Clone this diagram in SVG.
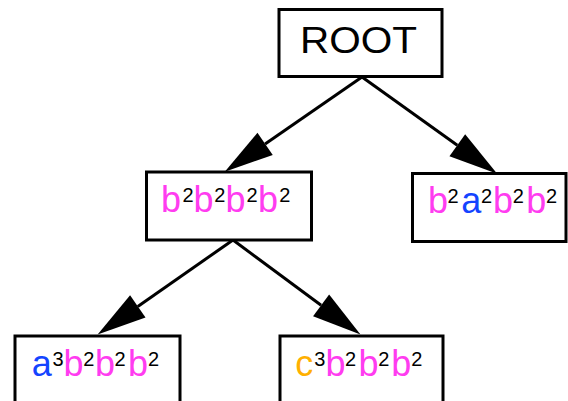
<svg xmlns="http://www.w3.org/2000/svg" width="568" height="401" viewBox="0 0 568 401">
<defs>
<style>
.box{fill:#fff;stroke:#000;stroke-width:3}
.edge{stroke:#000;stroke-width:3;fill:none;marker-end:url(#arr)}
text{font-family:"Liberation Sans",Arial,Helvetica,sans-serif;fill:#000}
.big{font-size:36px}
.sup{font-size:20px}
.m{fill:#ff3cf0}
.bl{fill:#1444ff}
.or{fill:#ffb000}
</style>
<marker id="arr" markerUnits="userSpaceOnUse" markerWidth="50" markerHeight="28" refX="0" refY="13.5" orient="auto" overflow="visible">
<path d="M0,0 L49,13.5 L0,27 z" fill="#000"/>
</marker>
</defs>
<rect width="568" height="401" fill="#fff"/>
<g id="edges">
<line class="edge" x1="362" y1="77" x2="265.1" y2="143.9"/>
<line class="edge" x1="362" y1="77" x2="457.3" y2="145.2"/>
<line class="edge" x1="233" y1="240" x2="137.8" y2="306.4"/>
<line class="edge" x1="233" y1="240" x2="321.1" y2="305.3"/>
</g>
<g id="root">
<rect class="box" x="279" y="9.5" width="163" height="67"/>
<text class="big" x="300" y="53" textLength="117" lengthAdjust="spacingAndGlyphs">ROOT</text>
</g>
<g id="n1">
<rect class="box" x="146.5" y="172" width="165" height="68"/>
<text><tspan class="big m" x="161" y="212">b</tspan><tspan class="sup" x="182.5" y="202">2</tspan><tspan class="big m" x="193.5" y="212">b</tspan><tspan class="sup" x="214.2" y="202">2</tspan><tspan class="big m" x="225.5" y="212">b</tspan><tspan class="sup" x="246.6" y="202">2</tspan><tspan class="big m" x="258" y="212">b</tspan><tspan class="sup" x="279.2" y="202">2</tspan></text>
</g>
<g id="n2">
<rect class="box" x="412.5" y="173.5" width="153.5" height="68"/>
<text><tspan class="big m" x="428" y="213">b</tspan><tspan class="sup" x="447.6" y="203">2</tspan><tspan class="big bl" x="461.2" y="213">a</tspan><tspan class="sup" x="481" y="203">2</tspan><tspan class="big m" x="493" y="213">b</tspan><tspan class="sup" x="512.8" y="203">2</tspan><tspan class="big m" x="526.2" y="213">b</tspan><tspan class="sup" x="546" y="203">2</tspan></text>
</g>
<g id="n3">
<rect class="box" x="15" y="336" width="165" height="80"/>
<text><tspan class="big bl" x="31.8" y="376">a</tspan><tspan class="sup" x="52.6" y="366">3</tspan><tspan class="big m" x="63.5" y="376">b</tspan><tspan class="sup" x="83.2" y="366">2</tspan><tspan class="big m" x="95" y="376">b</tspan><tspan class="sup" x="114.6" y="366">2</tspan><tspan class="big m" x="128" y="376">b</tspan><tspan class="sup" x="148" y="366">2</tspan></text>
</g>
<g id="n4">
<rect class="box" x="280" y="336" width="163" height="80"/>
<text><tspan class="big or" x="295.2" y="376">c</tspan><tspan class="sup" x="314.3" y="366">3</tspan><tspan class="big m" x="325.4" y="376">b</tspan><tspan class="sup" x="345" y="366">2</tspan><tspan class="big m" x="358.5" y="376">b</tspan><tspan class="sup" x="378.3" y="366">2</tspan><tspan class="big m" x="391.3" y="376">b</tspan><tspan class="sup" x="411.3" y="366">2</tspan></text>
</g>
</svg>
